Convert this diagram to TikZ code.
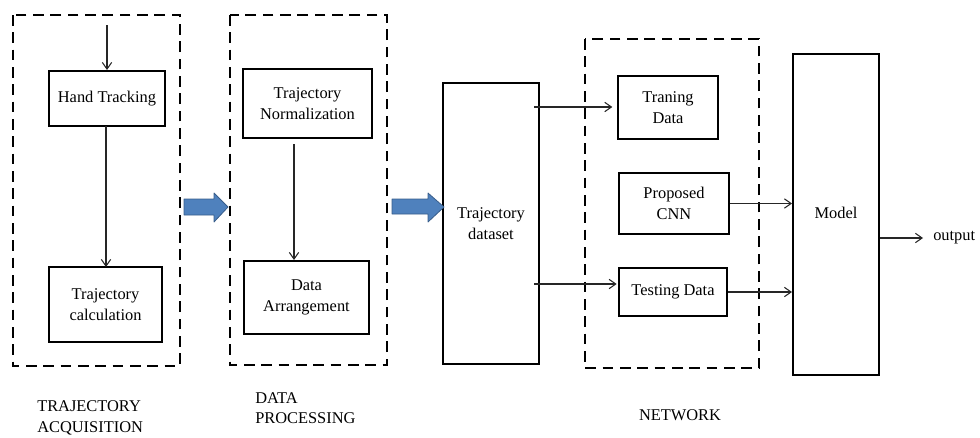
\documentclass[tikz,border=0pt]{standalone}
\usepackage{fontspec}
\setmainfont{Liberation Serif}
\usetikzlibrary{arrows.meta,fit}
\definecolor{arrowblue}{RGB}{79,129,189}
\definecolor{arrowedge}{RGB}{56,93,138}
\begin{document}
\begin{tikzpicture}[x=0.75pt,y=-0.75pt,
  font=\fontsize{12.3}{15.5}\selectfont,
  box/.style={draw=black, line width=1.5pt, inner sep=0pt},
  txt/.style={align=center, inner sep=0pt},
  group/.style={draw=black, line width=2.1pt, dash pattern=on 8pt off 5pt},
  conn/.style={draw=black!85, line width=0.8pt, -{Straight Barb[length=5pt,width=7pt]}},
  fatarrow/.style={fill=arrowblue, draw=arrowedge, line width=0.6pt, line join=round},
  lbl/.style={align=left, inner sep=0pt}]
\useasboundingbox (0,0) rectangle (980,437);

% dashed groups
\draw[group] (13,15) rectangle (180,366);
\draw[group] (230,15) rectangle (387,365);
\draw[group] (585,39) rectangle (759,368);

% boxes
\node[box, fit={(49,71) (165,126)}] (ht) {};
\node[box, fit={(49,267) (162,342)}] (tc) {};
\node[box, fit={(243,69) (372,138)}] (tn) {};
\node[box, fit={(244,261) (369,334)}] (da) {};
\node[box, fit={(443,83) (539,364)}] (td) {};
\node[box, fit={(618,76) (718,139)}] (trd) {};
\node[box, fit={(619,173) (729,234)}] (cnn) {};
\node[box, fit={(619,268) (727,316)}] (te) {};
\node[box, fit={(793,54) (879,375)}] (model) {};

% box texts
\node[txt] (htt) at (ht.center) {Hand Tracking};
\node[txt] (tct) at (tc.center) {Trajectory\\calculation};
\node[txt] (tnt) at (tn.center) {Trajectory\\Normalization};
\node[txt] (dat) at (da.center) {Data\\Arrangement};
\node[txt] (tdt) at (td.center) {Trajectory\\dataset};
\node[txt] (trdt) at (trd.center) {Traning\\Data};
\node[txt] (cnnt) at (cnn.center) {Proposed\\CNN};
\node[txt] (tet) at (te.center) {Testing Data};
\node[txt] (modelt) at ([yshift=1pt]model.center) {Model};

% labels
\node[lbl, anchor=west] (l1) at (37,418) {TRAJECTORY\\ACQUISITION};
\node[lbl, anchor=west] (l2) at (255,408) {DATA\\PROCESSING};
\node[lbl] (l3) at (680,415) {NETWORK};
\node[lbl, anchor=west] (outtxt) at (933,238) {output};

% coordinates
\coordinate (in) at (107,25);
\coordinate (nstart) at (294,144);
\coordinate (d1) at (534,107);
\coordinate (d2) at (534,284);
\coordinate (outend) at (923,238);

% connectors
\draw[conn] (in) -- (in |- ht.north);
\draw[conn] (106,126) -- (106,267);
\draw[conn] (nstart) -- (nstart |- da.north);
\draw[conn] (d1) -- ([xshift=-3.5pt]d1 -| trd.west);
\draw[conn] (d2) -- ([xshift=-1pt]d2 -| te.west);
\draw[conn] (cnn.east) -- (cnn.east -| model.west);
\draw[conn] (te.east) -- (te.east -| model.west);
\draw[conn] (outend -| model.east) -- (outend);

% blue block arrows
\draw[fatarrow] (184,199) -- (214,199) -- (214,193) -- (228,207) -- (214,222) -- (214,215) -- (184,215) -- cycle;
\draw[fatarrow] (392,199) -- (428,199) -- (428,193) -- (444,207) -- (428,222) -- (428,214) -- (392,214) -- cycle;
\end{tikzpicture}
\end{document}
